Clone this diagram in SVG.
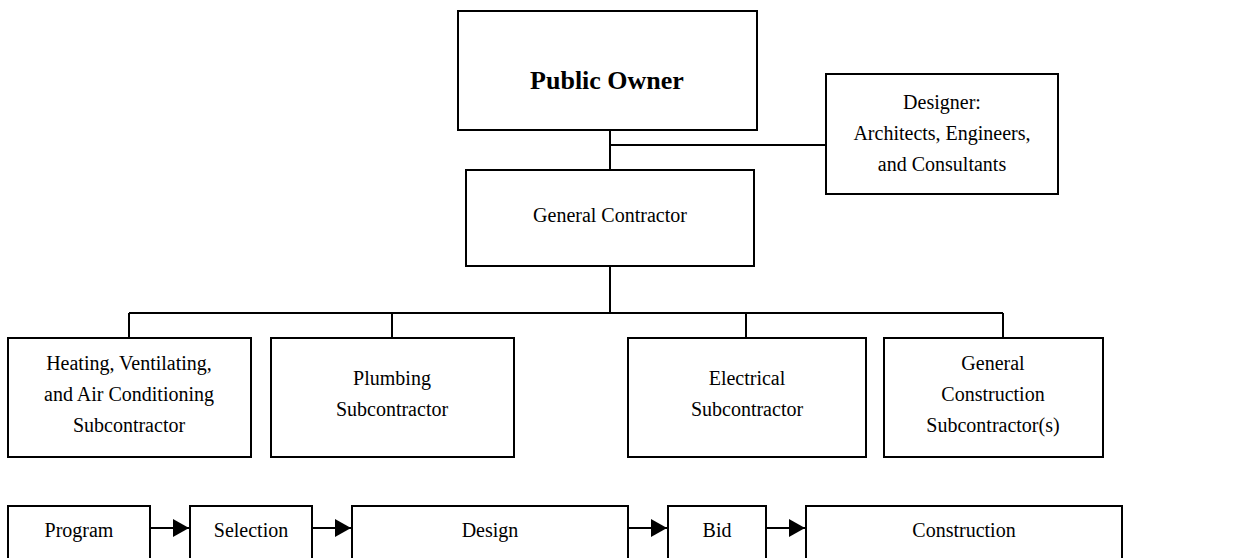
<svg xmlns="http://www.w3.org/2000/svg" width="1235" height="558" viewBox="0 0 1235 558">
  <style>
    .box { fill: #ffffff; stroke: #000000; stroke-width: 2; }
    .ln { fill: none; stroke: #000000; stroke-width: 2; }
    .t { font-family: "Liberation Serif", "Times New Roman", serif; font-size: 20px; fill: #000000; text-anchor: middle; }
    .b { font-weight: bold; font-size: 26px; }
  </style>
  <defs>
    <marker id="arrow" viewBox="0 0 16 18" refX="16" refY="9" markerWidth="16" markerHeight="18" markerUnits="userSpaceOnUse" orient="auto">
      <path d="M0,0 L16,9 L0,18 Z" fill="#000000"/>
    </marker>
  </defs>
  <rect width="1235" height="558" fill="#ffffff"/>

  <!-- connectors -->
  <g id="connectors">
    <path class="ln" d="M610,130 V170 M610,145 H826"/>
    <path class="ln" d="M610,266 V313 M129,313 H1003 M129,313 V338 M392,313 V338 M746,313 V338 M1003,313 V338"/>
    <path class="ln" d="M150,528 H189" marker-end="url(#arrow)"/>
    <path class="ln" d="M312,528 H351" marker-end="url(#arrow)"/>
    <path class="ln" d="M628,528 H667" marker-end="url(#arrow)"/>
    <path class="ln" d="M766,528 H805" marker-end="url(#arrow)"/>
  </g>

  <g id="public-owner">
    <rect class="box" x="458" y="11" width="299" height="119"/>
    <text class="t b" x="607" y="89">Public Owner</text>
  </g>
  <g id="designer">
    <rect class="box" x="826" y="74" width="232" height="120"/>
    <text class="t" x="942" y="109">Designer:</text>
    <text class="t" x="942" y="140">Architects, Engineers,</text>
    <text class="t" x="942" y="171">and Consultants</text>
  </g>
  <g id="general-contractor">
    <rect class="box" x="466" y="170" width="288" height="96"/>
    <text class="t" x="610" y="222">General Contractor</text>
  </g>

  <g id="hvac">
    <rect class="box" x="8" y="338" width="243" height="119"/>
    <text class="t" x="129" y="370">Heating, Ventilating,</text>
    <text class="t" x="129" y="401">and Air Conditioning</text>
    <text class="t" x="129" y="432">Subcontractor</text>
  </g>
  <g id="plumbing">
    <rect class="box" x="271" y="338" width="243" height="119"/>
    <text class="t" x="392" y="385">Plumbing</text>
    <text class="t" x="392" y="416">Subcontractor</text>
  </g>
  <g id="electrical">
    <rect class="box" x="628" y="338" width="238" height="119"/>
    <text class="t" x="747" y="385">Electrical</text>
    <text class="t" x="747" y="416">Subcontractor</text>
  </g>
  <g id="general-construction">
    <rect class="box" x="884" y="338" width="219" height="119"/>
    <text class="t" x="993" y="370">General</text>
    <text class="t" x="993" y="401">Construction</text>
    <text class="t" x="993" y="432">Subcontractor(s)</text>
  </g>

  <g id="program">
    <rect class="box" x="8" y="506" width="142" height="70"/>
    <text class="t" x="79" y="537">Program</text>
  </g>
  <g id="selection">
    <rect class="box" x="190" y="506" width="122" height="70"/>
    <text class="t" x="251" y="537">Selection</text>
  </g>
  <g id="design">
    <rect class="box" x="352" y="506" width="276" height="70"/>
    <text class="t" x="490" y="537">Design</text>
  </g>
  <g id="bid">
    <rect class="box" x="668" y="506" width="98" height="70"/>
    <text class="t" x="717" y="537">Bid</text>
  </g>
  <g id="construction">
    <rect class="box" x="806" y="506" width="316" height="70"/>
    <text class="t" x="964" y="537">Construction</text>
  </g>
</svg>
